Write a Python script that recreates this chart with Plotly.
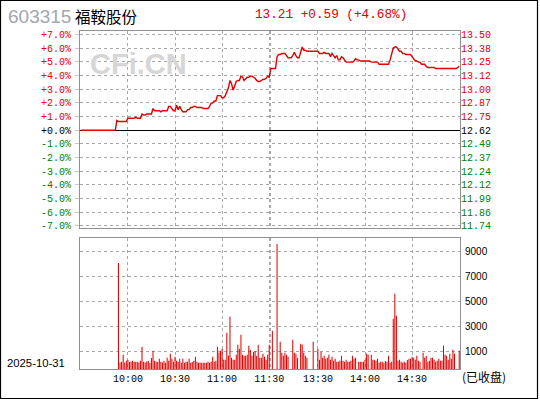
import plotly.graph_objects as go

# ---------------- data ----------------
PREV_CLOSE = 12.62
STOCK_CODE = "603315"
STOCK_NAME = "福鞍股份"
TRADE_DATE = "2025-10-31"
STATUS = "(已收盘)"

# minute index: 0 = 9:30, 120 = 11:30, 121 = 13:00, 241 = 15:00
TIME_TICK_POS = [30, 60, 90, 120, 121, 151, 181, 211]
TIME_TICK_LABELS = ["10:00", "10:30", "11:00", "11:30", "", "13:30", "14:00", "14:30"]

PCT_TICKS = [7, 6, 5, 4, 3, 2, 1, 0, -1, -2, -3, -4, -5, -6, -7]
PCT_LABELS = ["+7.0%", "+6.0%", "+5.0%", "+4.0%", "+3.0%", "+2.0%", "+1.0%", "+0.0%",
              "-1.0%", "-2.0%", "-3.0%", "-4.0%", "-5.0%", "-6.0%", "-7.0%"]
PRICE_LABELS = ["13.50", "13.38", "13.25", "13.12", "13.00", "12.87", "12.75", "12.62",
                "12.49", "12.37", "12.24", "12.12", "11.99", "11.86", "11.74"]
VOL_TICK_LABELS = ["1000", "3000", "5000", "7000", "9000"]

PRICE = [
    12.62, 12.62, 12.62, 12.62, 12.62, 12.62, 12.62, 12.62, 12.62, 12.62,
    12.62, 12.62, 12.62, 12.62, 12.62, 12.62, 12.62, 12.62, 12.62, 12.62,
    12.62, 12.62, 12.62, 12.71, 12.70, 12.70, 12.70, 12.70, 12.70, 12.70,
    12.73, 12.73, 12.73, 12.73, 12.73, 12.74, 12.73, 12.73, 12.73, 12.77,
    12.76, 12.76, 12.77, 12.77, 12.77, 12.77, 12.82, 12.80, 12.80, 12.80,
    12.80, 12.79, 12.80, 12.80, 12.80, 12.80, 12.84, 12.84, 12.82, 12.80,
    12.80, 12.85, 12.81, 12.84, 12.81, 12.79, 12.79, 12.79, 12.81, 12.81,
    12.83, 12.83, 12.84, 12.84, 12.83, 12.83, 12.83, 12.83, 12.82, 12.82,
    12.82, 12.82, 12.84, 12.87, 12.87, 12.89, 12.89, 12.94, 12.94, 12.94,
    12.92, 12.92, 12.94, 12.97, 13.01, 13.08, 13.05, 12.99, 13.03, 13.07,
    13.08, 13.08, 13.12, 13.11, 13.08, 13.10, 13.11, 13.11, 13.12, 13.12,
    13.11, 13.10, 13.08, 13.07, 13.07, 13.08, 13.09, 13.09, 13.10, 13.12,
    13.11, 13.19, 13.19, 13.19, 13.19, 13.30, 13.32, 13.32, 13.33, 13.33,
    13.33, 13.31, 13.29, 13.29, 13.29, 13.31, 13.34, 13.31, 13.29, 13.29,
    13.33, 13.39, 13.36, 13.36, 13.35, 13.35, 13.35, 13.35, 13.35, 13.35,
    13.35, 13.35, 13.33, 13.33, 13.33, 13.34, 13.33, 13.33, 13.33, 13.30,
    13.33, 13.31, 13.29, 13.31, 13.27, 13.27, 13.30, 13.29, 13.27, 13.25,
    13.25, 13.25, 13.25, 13.25, 13.26, 13.28, 13.27, 13.27, 13.26, 13.26,
    13.26, 13.26, 13.26, 13.26, 13.26, 13.25, 13.25, 13.25, 13.25, 13.25,
    13.23, 13.23, 13.23, 13.23, 13.23, 13.23, 13.23, 13.27, 13.32, 13.38,
    13.39, 13.39, 13.37, 13.35, 13.35, 13.33, 13.33, 13.32, 13.32, 13.32,
    13.32, 13.30, 13.28, 13.26, 13.26, 13.25, 13.25, 13.23, 13.23, 13.23,
    13.21, 13.20, 13.20, 13.20, 13.20, 13.20, 13.19, 13.19, 13.19, 13.19,
    13.19, 13.19, 13.19, 13.19, 13.19, 13.19, 13.19, 13.19, 13.19, 13.19,
    13.20, 13.21,
]

VOLUME = [
    0, 0, 0, 0, 0, 0, 0, 0, 0, 0,
    0, 0, 0, 0, 0, 0, 0, 0, 0, 0,
    0, 0, 0, 0, 8500, 530, 590, 1150, 510, 670,
    720, 560, 610, 670, 590, 590, 590, 530, 670, 1790,
    590, 530, 610, 670, 480, 880, 1470, 670, 590, 590,
    830, 590, 530, 670, 510, 910, 670, 1230, 830, 590,
    990, 670, 590, 830, 510, 830, 510, 590, 590, 830,
    510, 560, 670, 990, 590, 510, 510, 510, 510, 510,
    510, 590, 510, 590, 990, 590, 670, 1790, 1330, 1470,
    1630, 750, 750, 2910, 1090, 4190, 910, 750, 750, 1150,
    1950, 1630, 2750, 1150, 1070, 1070, 1150, 1870, 1550, 1070,
    1360, 1440, 1070, 1950, 910, 910, 1230, 990, 750, 1150,
    1950, 0, 3070, 0, 0, 10030, 0, 2190, 1310, 1070,
    1310, 1150, 990, 0, 0, 2350, 1310, 1230, 910, 0,
    2030, 1950, 1310, 1070, 910, 0, 0, 0, 2190, 0,
    0, 1630, 750, 1390, 910, 1070, 830, 910, 1150, 750,
    990, 670, 830, 590, 590, 670, 1070, 670, 590, 750,
    590, 590, 670, 1070, 830, 910, 0, 590, 590, 590,
    590, 750, 1230, 1150, 0, 1150, 750, 750, 670, 830,
    510, 590, 590, 510, 640, 590, 1070, 510, 590, 4030,
    6030, 4270, 670, 750, 590, 510, 590, 510, 720, 830,
    830, 990, 910, 750, 1070, 670, 590, 0, 1310, 910,
    1070, 590, 670, 910, 910, 750, 590, 670, 830, 670,
    670, 1870, 1150, 1070, 750, 1230, 830, 1550, 1230, 0,
    0, 1470,
]

# ---------------- styling ----------------
RED = "#e00000"
GREEN = "#008000"
GRID = "#a8a8a8"
FRAME = "#909090"
MONO = "Liberation Mono, DejaVu Sans Mono, monospace"
SANS = "Liberation Sans, Arial, sans-serif"
CJK = "Noto Sans CJK SC, sans-serif"

W, H = 540, 400
ML, MR, MT, MB = 80, 80, 31, 31
PH = H - MT - MB


def px_x(p):
    return (p - ML) / (W - ML - MR)


def px_y(p):
    return (H - MB - p) / PH


x_idx = list(range(len(PRICE)))
pct = [(p / PREV_CLOSE - 1) * 100 for p in PRICE]


def colored(labels, ticks):
    out = []
    for lab, t in zip(labels, ticks):
        c = RED if t > 0 else (GREEN if t < 0 else "#000000")
        out.append(f'<span style="color:{c}">{lab}</span>')
    return out


fig = go.Figure()
fig.add_trace(go.Scatter(x=x_idx, y=pct, mode="lines",
                         line=dict(color=RED, width=1.4),
                         xaxis="x", yaxis="y", hoverinfo="skip"))
fig.add_trace(go.Scatter(x=x_idx, y=pct, mode="lines",
                         line=dict(color="rgba(0,0,0,0)", width=0),
                         xaxis="x", yaxis="y3", hoverinfo="skip"))
fig.add_trace(go.Bar(x=x_idx, y=VOLUME, marker=dict(color=RED, line=dict(width=0)),
                     xaxis="x2", yaxis="y2", hoverinfo="skip"))

pct_range = [-7.17, 7.27]
vol_max = 10480
vol_offset = 440

xcommon = dict(range=[-0.5, 241.5], tickvals=TIME_TICK_POS, showgrid=True,
               gridcolor=GRID, griddash="dot", gridwidth=1, zeroline=False,
               showline=True, mirror=True, linecolor=FRAME, linewidth=1,
               fixedrange=True)

fig.update_layout(
    width=W, height=H,
    margin=dict(l=ML, r=MR, t=MT, b=MB, pad=0),
    paper_bgcolor="white", plot_bgcolor="white",
    showlegend=False, bargap=0.35, hovermode=False,
    xaxis=dict(**xcommon, anchor="y", domain=[0, 1], showticklabels=False),
    xaxis2=dict(**xcommon, anchor="y2", domain=[0, 1], ticktext=TIME_TICK_LABELS,
                tickfont=dict(family=MONO, size=10, color="#000000"), ticks=""),
    yaxis=dict(domain=[px_y(228), 1], range=pct_range, tickvals=PCT_TICKS,
               ticktext=colored(PCT_LABELS, PCT_TICKS),
               tickfont=dict(family=MONO, size=10),
               ticks="outside", ticklen=4, tickcolor="#c8c8c8", tickwidth=1,
               ticklabelstandoff=2,
               showgrid=True, gridcolor=GRID, griddash="dot",
               zeroline=True, zerolinecolor="#000000", zerolinewidth=1.2,
               showline=True, mirror=True, linecolor=FRAME, linewidth=1,
               anchor="x", fixedrange=True),
    yaxis3=dict(overlaying="y", side="right", range=pct_range, tickvals=PCT_TICKS,
                ticktext=colored(PRICE_LABELS, PCT_TICKS),
                tickfont=dict(family=MONO, size=10), ticks="",
                showgrid=False, zeroline=False, showline=False,
                anchor="x", fixedrange=True),
    yaxis2=dict(domain=[0, px_y(238.3)], range=[0, vol_max], side="right",
                tickvals=[int(v) + vol_offset for v in VOL_TICK_LABELS],
                ticktext=VOL_TICK_LABELS,
                tickfont=dict(family=SANS, size=10, color="#000000"), ticks="",
                ticklabelstandoff=2,
                showgrid=True, gridcolor=GRID, griddash="dot", zeroline=False,
                showline=True, mirror=True, linecolor=FRAME, linewidth=1,
                anchor="x2", fixedrange=True),
)

last = PRICE[-1]
chg = last - PREV_CLOSE
chg_pct = chg / PREV_CLOSE * 100
quote = f"{last:.2f} {chg:+.2f} ({chg_pct:+.2f}%)"

ann = [
    dict(text=STOCK_CODE, x=px_x(6), y=px_y(16), font=dict(family=SANS, size=19, color="#a2a6ae")),
    dict(text=STOCK_NAME, x=px_x(73), y=px_y(16), font=dict(family=CJK, size=15.5, color="#000000")),
    dict(text=quote, x=px_x(253), y=px_y(15), font=dict(family=MONO, size=12.7, color=RED)),
    dict(text="<b>CFi.CN</b>", x=px_x(88), y=px_y(64), font=dict(family=SANS, size=29, color="#d6d6d6")),
    dict(text=TRADE_DATE, x=px_x(5), y=px_y(363), font=dict(family=SANS, size=11.3, color="#000000")),
    dict(text=STATUS, x=px_x(460), y=px_y(377), font=dict(family=CJK, size=12, color="#000000")),
]
for a in ann:
    fig.add_annotation(xref="paper", yref="paper", xanchor="left", yanchor="middle",
                       showarrow=False, **a)

fig.add_shape(type="rect", xref="paper", yref="paper",
              x0=px_x(0.5), x1=px_x(537.5), y0=px_y(398.5), y1=px_y(0.5),
              line=dict(color="#000000", width=1.2), fillcolor="rgba(0,0,0,0)")

fig.write_html("out.html",
               config={"displayModeBar": False, "staticPlot": True},
               post_script="document.body.style.margin='0px';document.body.style.padding='0px';")
